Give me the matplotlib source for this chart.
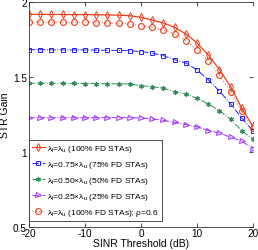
import matplotlib
matplotlib.use("Agg")
import matplotlib.pyplot as plt
import numpy as np

plt.rcParams['font.family'] = ['Liberation Sans', 'DejaVu Sans']
plt.rcParams['mathtext.default'] = 'regular'

sinr = [-20, -18, -16, -14, -12, -10, -8, -6, -4, -2, 0, 2, 4, 6, 8, 10, 12, 14, 16, 18, 20]

full_fd = [1.918, 1.918, 1.917, 1.917, 1.916, 1.916, 1.915, 1.914, 1.912, 1.909, 1.898, 1.880,
           1.860, 1.831, 1.787, 1.727, 1.647, 1.549, 1.435, 1.290, 1.170]
fd75 = [1.682, 1.682, 1.681, 1.681, 1.680, 1.680, 1.679, 1.678, 1.677, 1.675, 1.669, 1.660,
        1.642, 1.615, 1.593, 1.547, 1.482, 1.405, 1.320, 1.225, 1.140]
fd50 = [1.458, 1.458, 1.458, 1.457, 1.457, 1.456, 1.456, 1.455, 1.454, 1.453, 1.442, 1.435,
        1.425, 1.402, 1.387, 1.358, 1.320, 1.275, 1.218, 1.140, 1.085]
fd25 = [1.228, 1.228, 1.228, 1.228, 1.228, 1.228, 1.229, 1.229, 1.229, 1.229, 1.227, 1.220,
        1.210, 1.197, 1.183, 1.167, 1.143, 1.125, 1.098, 1.072, 1.020]
full_fd_rho = [1.866, 1.866, 1.865, 1.865, 1.864, 1.864, 1.863, 1.861, 1.858, 1.853, 1.842, 1.831,
               1.813, 1.787, 1.742, 1.682, 1.609, 1.513, 1.398, 1.270, 1.160]

labels = ['λ$_l$=λ$_u$ (100% FD STAs)',
          'λ$_l$=0.75×λ$_u$ (75% FD STAs)',
          'λ$_l$=0.50×λ$_u$ (50% FD STAs)',
          'λ$_l$=0.25×λ$_u$ (25% FD STAs)',
          'λ$_l$=λ$_u$ (100% FD STAs); ρ=0.6']

red = '#e8401c'
fig = plt.figure(figsize=(2.58, 2.51), dpi=100)
ax = fig.add_axes([0.112, 0.092, 0.869, 0.896])

ax.plot(sinr, full_fd, '-', color=red, lw=0.9, marker='d', mfc='none', mec=red, ms=3.8, mew=0.7, label=labels[0])
ax.plot(sinr, fd75, '-.', color='#1f1fff', lw=0.7, marker='s', mfc='none', mec='#1f1fff', ms=3.0, mew=0.7, label=labels[1])
ax.plot(sinr, fd50, '-.', color='#2e8b57', lw=0.7, marker=(6, 1, 0), mfc='#2e8b57', mec='#2e8b57', ms=3.6, mew=0.6, label=labels[2])
ax.plot(sinr, fd25, '-.', color='#9b30ff', lw=0.7, marker='>', mfc='none', mec='#9b30ff', ms=3.6, mew=0.7, label=labels[3])
ax.plot(sinr, full_fd_rho, ':', color='#f08a70', lw=0.9, marker='o', mfc='none', mec=red, ms=4.2, mew=0.8, label=labels[4])

ax.set_xlim(-20, 20)
ax.set_ylim(0.5, 2)
ax.set_xticks([-20, -10, 0, 10, 20])
ax.set_xticklabels(['-20', '-10', '0', '10', '20'])
ax.set_yticks([0.5, 1, 1.5, 2])
ax.set_yticklabels(['0.5', '1', '1.5', '2'])
ax.tick_params(direction='in', length=3, width=0.5, top=True, right=True, labelsize=7.2)
ax.tick_params(axis='x', pad=1)
ax.tick_params(axis='y', pad=1.5)
for s in ['left', 'bottom', 'top']:
    ax.spines[s].set_linewidth(0.6)
    ax.spines[s].set_color('#333333')
ax.spines['right'].set_visible(False)

ax.set_xlabel('SINR Threshold (dB)', fontsize=7.5, labelpad=0)
ax.set_ylabel('STR Gain', fontsize=7.5, labelpad=2)

leg = ax.legend(loc='lower left', bbox_to_anchor=(0, 0.025), borderaxespad=0, fontsize=6,
                handlelength=1.5, handletextpad=0.3, labelspacing=0.6, borderpad=0.4,
                fancybox=False, framealpha=1, edgecolor='#333333')
leg.get_frame().set_linewidth(0.6)

fig.savefig('out.png', dpi=100)
